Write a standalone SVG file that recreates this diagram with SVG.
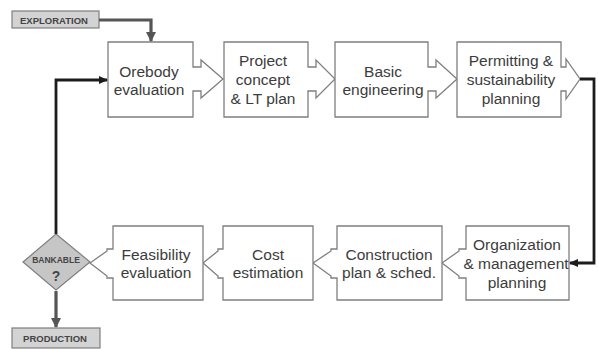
<svg xmlns="http://www.w3.org/2000/svg" width="598" height="350" viewBox="0 0 598 350">
<style>
.box{fill:#fff;stroke:#7f7f7f;stroke-width:1.3}
.t{font-family:"Liberation Sans",Arial,sans-serif;font-size:15.5px;fill:#3c3c3c;text-anchor:middle}
.tag{fill:#d3d3d3;stroke:#7f7f7f;stroke-width:1.2}
.tb{font-family:"Liberation Sans",Arial,sans-serif;font-size:9.5px;font-weight:bold;fill:#444;text-anchor:middle}
.dk{fill:none;stroke:#1c1c1c;stroke-width:2.8}
.gr{fill:none;stroke:#555;stroke-width:3.2}
</style>
<defs>
<marker id="ak" markerUnits="userSpaceOnUse" markerWidth="10" markerHeight="10" refX="8" refY="5" orient="auto"><path d="M0,1 L9,5 L0,9 Z" fill="#1c1c1c"/></marker>
<marker id="ag" markerUnits="userSpaceOnUse" markerWidth="12" markerHeight="12" refX="9" refY="6" orient="auto"><path d="M0,1 L10,6 L0,11 Z" fill="#555"/></marker>
</defs>
<g id="exploration"><rect class="tag" x="12" y="11" width="87" height="17"/><text class="tb" x="54" y="23.5">EXPLORATION</text></g>
<g id="production"><rect class="tag" x="12" y="328" width="88" height="20"/><text class="tb" x="55" y="342">PRODUCTION</text></g>
<g id="orebody"><path class="box" d="M108,42 H193 V67 H201 V60 L223,79 L201,98 V91 H193 V117 H108 Z"/><text class="t" x="149" y="77">Orebody</text><text class="t" x="149" y="95">evaluation</text></g>
<g id="project"><path class="box" d="M224,42 H308 V67 H316 V60 L335,79 L316,98 V91 H308 V117 H224 Z"/><text class="t" x="263" y="66">Project</text><text class="t" x="263" y="85">concept</text><text class="t" x="263" y="104">&amp; LT plan</text></g>
<g id="basic"><path class="box" d="M335,42 H428 V67 H436 V60 L457,79 L436,98 V91 H428 V117 H335 Z"/><text class="t" x="383" y="77">Basic</text><text class="t" x="383" y="95">engineering</text></g>
<g id="permitting"><path class="box" d="M457,42 H561 V67 H566 V59 L580,79 L566,99 V91 H561 V117 H457 Z"/><text class="t" x="511" y="66">Permitting &amp;</text><text class="t" x="511" y="85">sustainability</text><text class="t" x="511" y="104">planning</text></g>
<g id="organization"><path class="box" d="M466,226 H569 V300 H466 V278 H459 V276 L442,263 L459,251 V249 H466 Z"/><text class="t" x="517" y="250">Organization</text><text class="t" x="516" y="269">&amp; management</text><text class="t" x="517" y="288">planning</text></g>
<g id="construction"><path class="box" d="M337,226 H442 V300 H337 V278 H331 V276 L313,263 L331,251 V249 H337 Z"/><text class="t" x="389" y="260">Construction</text><text class="t" x="389" y="278">plan &amp; sched.</text></g>
<g id="cost"><path class="box" d="M223,226 H313 V300 H223 V278 H218 V276 L203,263 L218,251 V249 H223 Z"/><text class="t" x="268" y="260">Cost</text><text class="t" x="268" y="278">estimation</text></g>
<g id="feasibility"><path class="box" d="M113,226 H203 V300 H113 V278 H107 V276 L90,263 L107,251 V249 H113 Z"/><text class="t" x="156" y="260">Feasibility</text><text class="t" x="156" y="278">evaluation</text></g>
<g id="bankable"><path d="M56,234 L90,262 L56,290 L23,262 Z" fill="#c6c6c6" stroke="#7f7f7f" stroke-width="1.2"/><text class="tb" x="56" y="263" style="font-size:8.5px">BANKABLE</text><text class="tb" x="56" y="281" style="font-size:14px">?</text></g>
<g id="connectors">
<path class="gr" d="M99,20 H151 V41" marker-end="url(#ag)"/>
<path class="gr" d="M56,291 V327" marker-end="url(#ag)"/>
<path class="dk" d="M56,234 V80 H107" marker-end="url(#ak)"/>
<path class="dk" d="M580,79 H594 V263 H570" marker-end="url(#ak)"/>
</g>
</svg>
